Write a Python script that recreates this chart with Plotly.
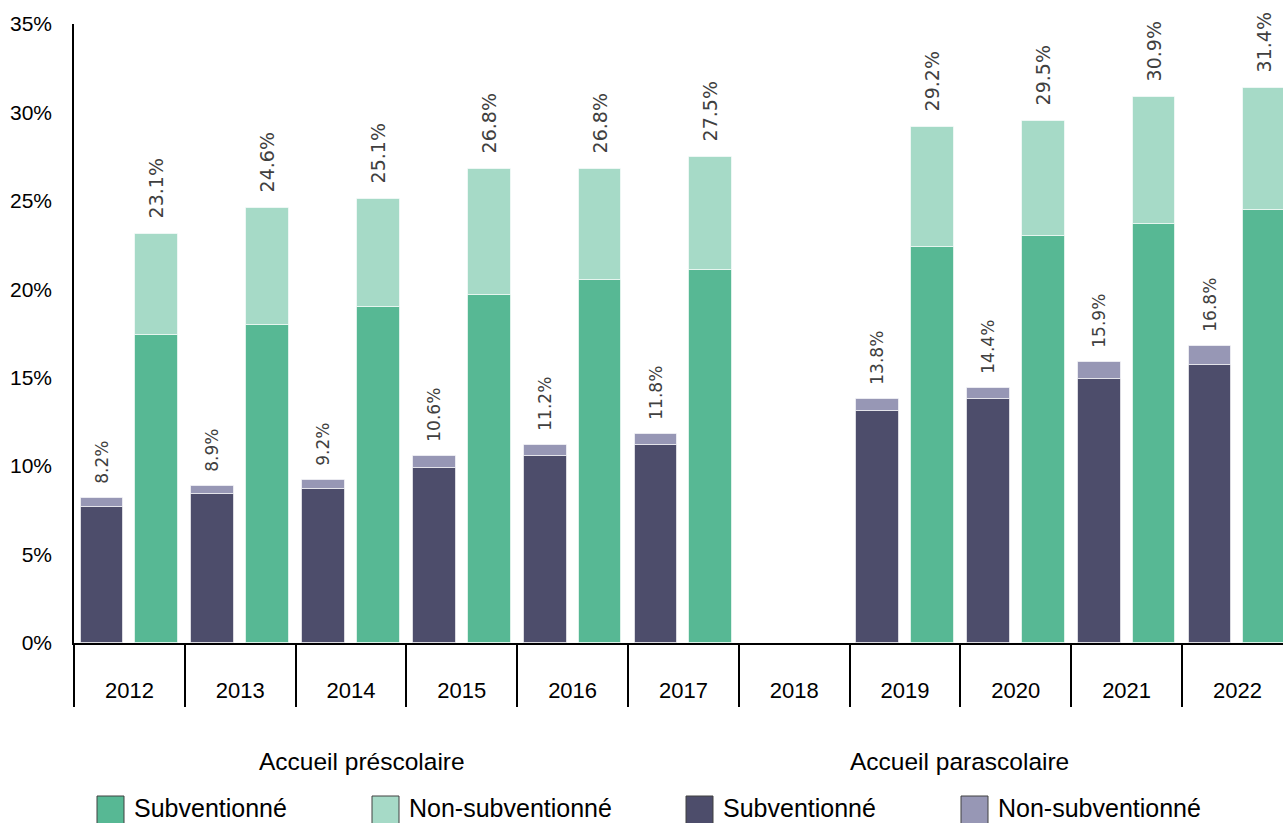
import plotly.graph_objects as go

# ---------------- data ----------------
years = ["2012", "2013", "2014", "2015", "2016", "2017", "2018", "2019", "2020", "2021", "2022"]

# Accueil parascolaire (purple bars, left in each year)
para_sub = [7.7, 8.4, 8.7, 9.9, 10.6, 11.2, None, 13.1, 13.8, 14.9, 15.7]
para_total = [8.2, 8.9, 9.2, 10.6, 11.2, 11.8, None, 13.8, 14.4, 15.9, 16.8]

# Accueil préscolaire (green bars, right in each year)
pre_sub = [17.4, 18.0, 19.0, 19.7, 20.5, 21.1, None, 22.4, 23.0, 23.7, 24.5]
pre_total = [23.1, 24.6, 25.1, 26.8, 26.8, 27.5, None, 29.2, 29.5, 30.9, 31.4]

y_ticks = [0, 5, 10, 15, 20, 25, 30, 35]
y_tick_labels = ["0%", "5%", "10%", "15%", "20%", "25%", "30%", "35%"]

group_titles = ["Accueil préscolaire", "Accueil parascolaire"]
legend_labels = ["Subventionné", "Non-subventionné", "Subventionné", "Non-subventionné"]

# ---------------- styles ----------------
C_PARA_SUB = "#4D4D6B"
C_PARA_NON = "#9797B5"
C_PRE_SUB = "#57B894"
C_PRE_NON = "#A6DAC7"
LABEL_COLOR = "#404040"
AX_FONT = "Liberation Sans, Arial, sans-serif"
LBL_FONT = "DejaVu Sans, sans-serif"

W, H = 1283, 823
PL, PR, PT, PB = 74, 1283, 24, 643
CAT_W = 110.8
BAR_W = 0.385


def non(total, sub):
    return [None if t is None else round(t - s, 2) for t, s in zip(total, sub)]


def fmt(vals):
    return ["" if v is None else "\u00a0\u00a0" + f"{v:.1f}%" for v in vals]


fig = go.Figure()

line = dict(color="rgba(255,255,255,0.6)", width=1)

# purple (parascolaire)
fig.add_trace(go.Bar(x=years, y=para_sub, offset=-0.44, width=BAR_W,
                     marker=dict(color=C_PARA_SUB, line=line), showlegend=False,
                     name="Parascolaire subventionné"))
fig.add_trace(go.Bar(x=years, y=non(para_total, para_sub), base=para_sub, offset=-0.44, width=BAR_W,
                     marker=dict(color=C_PARA_NON, line=line), showlegend=False,
                     name="Parascolaire non-subventionné",
                     text=fmt(para_total), textposition="outside", textangle=-90,
                     constraintext="none",
                     textfont=dict(family=LBL_FONT, size=17, color=LABEL_COLOR),
                     cliponaxis=False))
# green (préscolaire)
fig.add_trace(go.Bar(x=years, y=pre_sub, offset=0.055, width=BAR_W,
                     marker=dict(color=C_PRE_SUB, line=line), showlegend=False,
                     name="Préscolaire subventionné"))
fig.add_trace(go.Bar(x=years, y=non(pre_total, pre_sub), base=pre_sub, offset=0.055, width=BAR_W,
                     marker=dict(color=C_PRE_NON, line=line), showlegend=False,
                     name="Préscolaire non-subventionné",
                     text=fmt(pre_total), textposition="outside", textangle=-90,
                     constraintext="none",
                     textfont=dict(family=LBL_FONT, size=19, color=LABEL_COLOR),
                     cliponaxis=False))


def px_x(X):
    return (X - PL) / (PR - PL)


def px_y(Y):
    return (PB - Y) / (PB - PT)


# custom legend (large swatches)
swatch_left = [97, 372, 686, 961]
swatch_colors = [C_PRE_SUB, C_PRE_NON, C_PARA_SUB, C_PARA_NON]
shapes = []
annotations = []
for xl, col, lab in zip(swatch_left, swatch_colors, legend_labels):
    shapes.append(dict(type="rect", xref="paper", yref="paper",
                       x0=px_x(xl), x1=px_x(xl + 27), y0=px_y(830), y1=px_y(796),
                       fillcolor=col, line=dict(color="#404040", width=1)))
    annotations.append(dict(xref="paper", yref="paper", x=px_x(xl + 35), y=px_y(808),
                            xanchor="left", yanchor="middle", showarrow=False, text=lab,
                            font=dict(family=AX_FONT, size=25, color="#000000")))
for cx, t in zip([362, 959], group_titles):
    annotations.append(dict(xref="paper", yref="paper", x=px_x(cx), y=px_y(761),
                            xanchor="center", yanchor="middle", showarrow=False, text=t,
                            font=dict(family=AX_FONT, size=24.5, color="#000000")))

fig.update_layout(
    width=W, height=H,
    margin=dict(l=PL, r=W - PR, t=PT, b=H - PB, pad=0, autoexpand=False),
    paper_bgcolor="white", plot_bgcolor="white",
    barmode="overlay", bargap=0,
    showlegend=False,
    shapes=shapes, annotations=annotations,
    font=dict(family=AX_FONT, color="#000000"),
)
fig.update_xaxes(
    type="category", categoryorder="array", categoryarray=years,
    range=[-0.5, -0.5 + (PR - PL) / CAT_W],
    showline=True, linecolor="#000000", linewidth=1.5,
    ticks="outside", tickson="boundaries", ticklen=62, tickcolor="#000000", tickwidth=1.5,
    ticklabelstandoff=27,
    tickfont=dict(family=AX_FONT, size=22, color="#000000"),
    showgrid=False, zeroline=False, fixedrange=True, automargin=False,
)
fig.update_yaxes(
    range=[0, 35], tickvals=y_ticks, ticktext=y_tick_labels,
    showline=True, linecolor="#000000", linewidth=1.5,
    ticks="", ticklabelstandoff=16,
    tickfont=dict(family=AX_FONT, size=21, color="#000000"),
    showgrid=False, zeroline=False, fixedrange=True, automargin=False,
)

fig.write_html("out.html", config={"displayModeBar": False},
               post_script="document.body.style.margin='0px';document.body.style.overflow='hidden';")
